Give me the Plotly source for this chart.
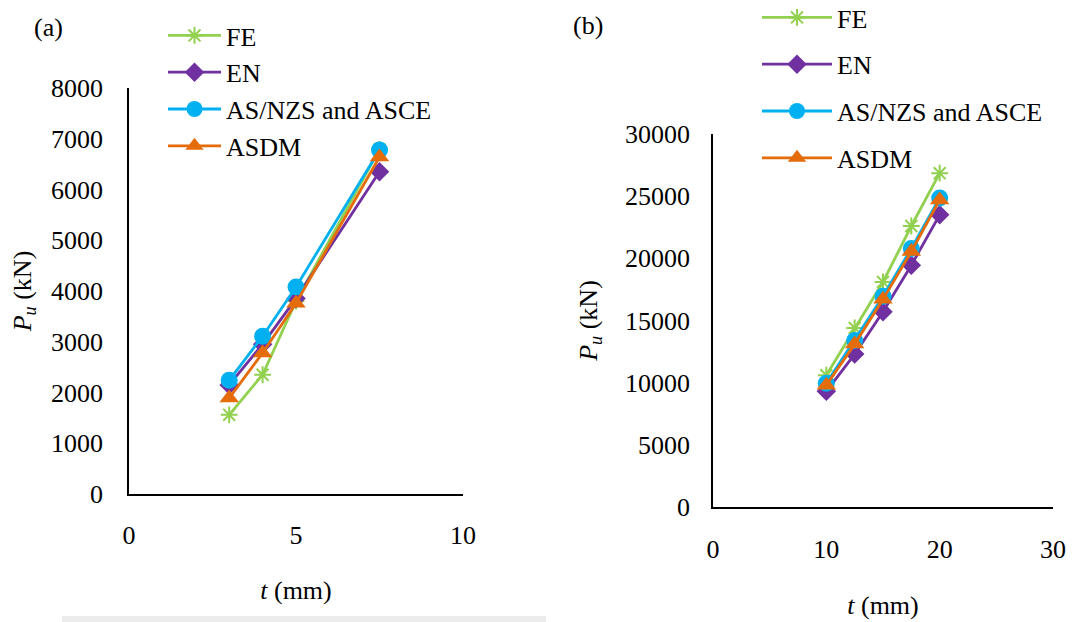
import plotly.graph_objects as go

# Panel (a): thickness t (mm) vs ultimate load Pu (kN)
t_a = [3, 4, 5, 7.5]
fe_a = [1560, 2350, 3800, 6790]
en_a = [2150, 2950, 3850, 6350]
as_a = [2240, 3110, 4080, 6780]
asdm_a = [1890, 2780, 3760, 6640]

# Panel (b)
t_b = [10, 12.5, 15, 17.5, 20]
fe_b = [10600, 14400, 18100, 22600, 26850]
en_b = [9300, 12300, 15700, 19450, 23500]
as_b = [9950, 13400, 16950, 20800, 24850]
asdm_b = [9800, 13100, 16700, 20550, 24700]

series_names = ["FE", "EN", "AS/NZS and ASCE", "ASDM"]
colors = ["#92D050", "#7030A0", "#00B0F0", "#E46C0A"]
symbols = ["asterisk-open", "diamond", "circle", "triangle-up"]
sizes = [14, 15, 17, 17]

FONT = "Liberation Serif"
FS = 26

fig = go.Figure()

panels = [
    (t_a, [fe_a, en_a, as_a, asdm_a], "x", "y", "legend"),
    (t_b, [fe_b, en_b, as_b, asdm_b], "x2", "y2", "legend2"),
]
for xs, ys_all, xa, ya, lg in panels:
    for i, ys in enumerate(ys_all):
        marker = dict(symbol=symbols[i], size=sizes[i], color=colors[i])
        if symbols[i] == "asterisk-open":
            marker["line"] = dict(color=colors[i], width=2)
        fig.add_trace(go.Scatter(
            x=xs, y=ys, name=series_names[i], mode="lines+markers",
            line=dict(color=colors[i], width=2.8), marker=marker,
            xaxis=xa, yaxis=ya, legend=lg, legendgroup=lg + str(i),
        ))

axis_common = dict(
    showgrid=False, zeroline=False, showline=True, linecolor="black",
    linewidth=1.5, ticks="", tickformat="d", automargin=False,
    tickfont=dict(family=FONT, size=FS, color="black"),
)

fig.update_layout(
    template="none",
    width=1080, height=622,
    margin=dict(l=0, r=0, t=0, b=0, autoexpand=False),
    paper_bgcolor="white", plot_bgcolor="white",
    font=dict(family=FONT, size=FS, color="black"),
    xaxis=dict(domain=[129 / 1080, 463 / 1080], range=[0, 10], dtick=5,
               anchor="y", ticklabelstandoff=17,
               title=dict(text="<i>t</i> (mm)", font=dict(family=FONT, size=FS), standoff=32),
               **axis_common),
    yaxis=dict(domain=[(622 - 494) / 622, (622 - 88) / 622], range=[0, 8000], dtick=1000,
               anchor="x", ticklabelstandoff=19,
               title=dict(text="<i>P</i><sub><i>u</i></sub> (kN)", font=dict(family=FONT, size=FS), standoff=12),
               **axis_common),
    xaxis2=dict(domain=[713 / 1080, 1053 / 1080], range=[0, 30], dtick=10,
                anchor="y2", ticklabelstandoff=18,
                title=dict(text="<i>t</i> (mm)", font=dict(family=FONT, size=FS), standoff=33),
                **axis_common),
    yaxis2=dict(domain=[(622 - 507) / 622, (622 - 134) / 622], range=[0, 30000], dtick=5000,
                anchor="x2", ticklabelstandoff=16,
                title=dict(text="<i>P</i><sub><i>u</i></sub> (kN)", font=dict(family=FONT, size=FS), standoff=20),
                **axis_common),
    legend=dict(x=163 / 1080, y=1 - 12 / 622, xanchor="left", yanchor="top",
                bgcolor="rgba(0,0,0,0)", font=dict(family=FONT, size=FS), tracegroupgap=0,
                traceorder="grouped", itemwidth=53),
    legend2=dict(x=757 / 1080, y=1 + 6 / 622, xanchor="left", yanchor="top",
                 bgcolor="rgba(0,0,0,0)", font=dict(family=FONT, size=FS), tracegroupgap=10,
                 traceorder="grouped", itemwidth=70),
    showlegend=True,
)

fig.add_annotation(text="(a)", x=48 / 1080, y=1 - 27 / 622, xref="paper", yref="paper",
                   xanchor="center", yanchor="middle",
                   showarrow=False, font=dict(family=FONT, size=FS))
fig.add_annotation(text="(b)", x=588 / 1080, y=1 - 25 / 622, xref="paper", yref="paper",
                   xanchor="center", yanchor="middle",
                   showarrow=False, font=dict(family=FONT, size=FS))

# faint grey strip along the lower edge of the left panel
fig.add_shape(type="rect", xref="paper", yref="paper", layer="below",
              x0=62 / 1080, x1=546 / 1080, y0=0, y1=6 / 622,
              fillcolor="#ececec", line=dict(width=0))

fig.write_html("out.html")
